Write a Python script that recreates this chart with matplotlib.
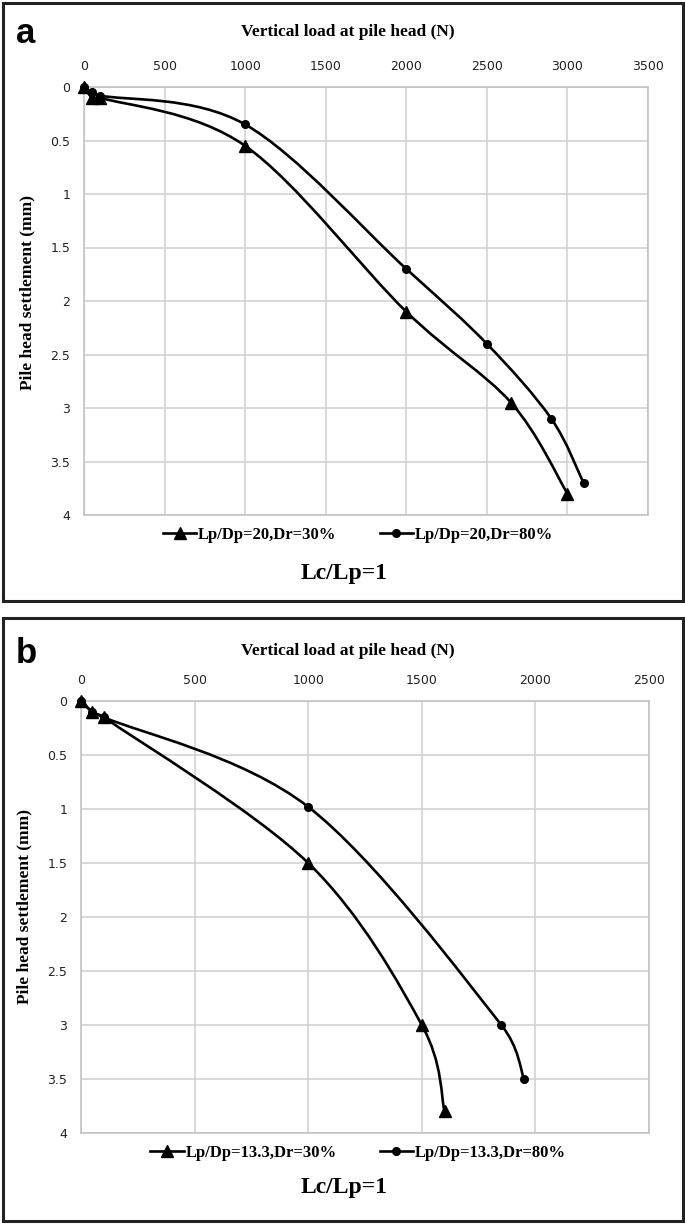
import numpy as np
import matplotlib
matplotlib.use('Agg')
import matplotlib.pyplot as plt
from matplotlib.path import Path
from matplotlib.patches import PathPatch, Rectangle
from matplotlib.lines import Line2D

# ---------------- DATA ----------------

# panel a : Lp/Dp = 20
load_a_30 = [0, 50, 100, 1000, 2000, 2650, 3000]
settle_a_30 = [0, 0.1, 0.1, 0.55, 2.1, 2.95, 3.8]
load_a_80 = [0, 50, 100, 1000, 2000, 2500, 2900, 3100]
settle_a_80 = [0, 0.05, 0.08, 0.35, 1.7, 2.4, 3.1, 3.7]

# panel b : Lp/Dp = 13.3
load_b_30 = [0, 50, 100, 1000, 1500, 1600]
settle_b_30 = [0, 0.1, 0.15, 1.5, 3.0, 3.8]
load_b_80 = [0, 50, 100, 1000, 1850, 1950]
settle_b_80 = [0, 0.1, 0.15, 0.98, 3.0, 3.5]

xticks_a = [0, 500, 1000, 1500, 2000, 2500, 3000, 3500]
xticks_b = [0, 500, 1000, 1500, 2000, 2500]
yticks = [0, 0.5, 1, 1.5, 2, 2.5, 3, 3.5, 4]
ytick_labels = ['0', '0.5', '1', '1.5', '2', '2.5', '3', '3.5', '4']

labels_a = ['Lp/Dp=20,Dr=30%', 'Lp/Dp=20,Dr=80%']
labels_b = ['Lp/Dp=13.3,Dr=30%', 'Lp/Dp=13.3,Dr=80%']

# ---------------- HELPERS ----------------

W, H = 685, 1224
SERIF = 'Liberation Serif'


def fx(px):
    return px / W


def fy(py):
    return 1 - py / H


def smooth_path(x, y, sx, sy):
    # Excel-like smoothed line: catmull-rom beziers in pixel units,
    # control arms clamped to half the chord so short ends don't overshoot
    pts = np.column_stack([np.array(x) * sx, np.array(y) * sy]).astype(float)
    n = len(pts)
    verts = [pts[0]]
    codes = [Path.MOVETO]

    def arm(a, c, chord):
        d = (c - a) / 6
        ld = np.hypot(*d)
        lim = 0.5 * chord
        if ld > lim and ld > 0:
            d = d * lim / ld
        return d

    for i in range(n - 1):
        p0 = pts[max(i - 1, 0)]
        p1 = pts[i]
        p2 = pts[i + 1]
        p3 = pts[min(i + 2, n - 1)]
        chord = np.hypot(*(p2 - p1))
        c1 = p1 + arm(p0, p2, chord)
        c2 = p2 - arm(p1, p3, chord)
        verts += [c1, c2, p2]
        codes += [Path.CURVE4] * 3
    verts = np.array(verts) / [sx, sy]
    return Path(verts, codes)


def draw_series(ax, x, y, marker, ms, sx, sy):
    ax.add_patch(PathPatch(smooth_path(x, y, sx, sy), facecolor='none',
                           edgecolor='black', lw=1.9, zorder=3,
                           clip_on=False))
    ax.plot(x, y, linestyle='none', marker=marker, ms=ms, color='black',
            zorder=4, clip_on=False)


def panel(box, plot_px, xticks, series, labels, letter, label_y, leg_y, cap_y,
          title_y, ylab_x, ylab_y):
    # outer frame
    fig.patches.append(Rectangle((fx(box[0]), fy(box[3])),
                                 fx(box[2]) - fx(box[0]), (box[3] - box[1]) / H,
                                 transform=fig.transFigure, fill=False,
                                 edgecolor='#222222', lw=2.2))
    l, t, r, b = plot_px
    ax = fig.add_axes([fx(l), fy(b), fx(r) - fx(l), (b - t) / H])
    ax.set_xlim(xticks[0], xticks[-1])
    ax.set_ylim(4, 0)
    ax.xaxis.tick_top()
    ax.set_xticks(xticks)
    ax.set_yticks(yticks)
    ax.set_yticklabels(ytick_labels)
    ax.tick_params(length=0, labelsize=9, pad=10, colors='#222222')
    ax.grid(True, color='#d0d0d0', lw=1.1)
    for s in ax.spines.values():
        s.set_color('#c0c0c0')
        s.set_linewidth(1.1)
    ax.set_axisbelow(True)

    sx = (r - l) / (xticks[-1] - xticks[0])
    sy = (b - t) / 4.0
    (x30, y30), (x80, y80) = series
    draw_series(ax, x30, y30, '^', 9, sx, sy)
    draw_series(ax, x80, y80, 'o', 5.5, sx, sy)

    handles = [Line2D([], [], color='black', lw=1.9, marker='^', ms=9),
               Line2D([], [], color='black', lw=1.9, marker='o', ms=5.5)]
    fig.legend(handles, labels, ncol=2, loc='center',
               bbox_to_anchor=(fx(358), fy(leg_y)), frameon=False,
               prop={'family': SERIF, 'weight': 'bold', 'size': 12},
               handlelength=2.0, handletextpad=0.1, columnspacing=2.6)

    fig.text(fx(26), fy(label_y), letter, fontsize=25, fontweight='bold',
             family='Liberation Sans', ha='center', va='baseline')
    fig.text(fx(348), fy(title_y), 'Vertical load at pile head (N)',
             fontsize=12.5, fontweight='bold', family=SERIF,
             ha='center', va='center')
    fig.text(fx(ylab_x), fy(ylab_y), 'Pile head settlement (mm)',
             fontsize=12.5, fontweight='bold', family=SERIF,
             rotation=90, ha='center', va='center')
    fig.text(fx(344), fy(cap_y), 'Lc/Lp=1', fontsize=17, fontweight='bold',
             family=SERIF, ha='center', va='center')
    return ax


# ---------------- FIGURE ----------------

fig = plt.figure(figsize=(W / 100, H / 100), dpi=100)
fig.patch.set_facecolor('white')

panel((3, 3, 683, 601), (84, 87, 648, 515), xticks_a,
      [(load_a_30, settle_a_30), (load_a_80, settle_a_80)], labels_a,
      'a', 43, 535, 573, 32, 27, 292)

panel((3, 618, 683, 1221), (81, 701, 649, 1133), xticks_b,
      [(load_b_30, settle_b_30), (load_b_80, settle_b_80)], labels_b,
      'b', 663, 1153, 1188, 651, 24, 906)

fig.savefig('out.png', dpi=100)
